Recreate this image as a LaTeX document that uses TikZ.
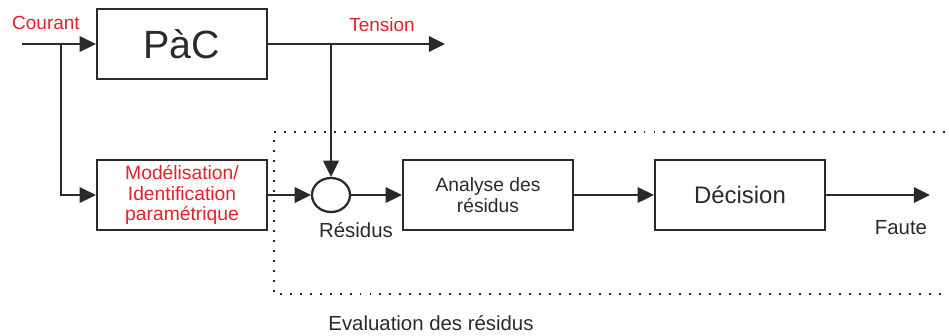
\documentclass[tikz,border=0pt]{standalone}
\usepackage{fontspec}
\setmainfont{Liberation Sans}
\usetikzlibrary{arrows.meta,shapes.geometric,positioning}
\definecolor{rouge}{RGB}{228,32,40}
\definecolor{trait}{RGB}{42,42,42}

\begin{document}
\begin{tikzpicture}[
	x=0.025cm, y=-0.025cm,
	align=center,
	>={Triangle[length=11.5pt,width=11pt]},
	line width=1.5pt,
	color=trait,
	bloc/.style={
		rectangle,
		draw=trait,
		line width=1.6pt,
		minimum width=4.25cm,
		minimum height=1.75cm,
		inner sep=0pt
	},
	somme/.style={ellipse, draw=trait, line width=1.6pt, minimum width=0.95cm, minimum height=0.85cm, inner sep=0pt},
	signal/.style={text=rouge, font=\fontsize{13.5}{15}\selectfont},
	texte/.style={font=\fontsize{14.5}{16}\selectfont},
	cadre/.style={line width=1.5pt, dash pattern=on 1.4pt off 5.7pt}
	]
    \useasboundingbox (0,0) rectangle (949,336);

    % pile a combustible
    \node[bloc, font=\fontsize{28}{30}\selectfont] (pac) at (182,44) {PàC};
    \coordinate (entree) at (22,44);
    \coordinate (b1) at (61,44);
    \coordinate (sortie) at (445,44);
    \coordinate (b2) at (331,44);
    \node[signal] at (46,23) (courant) {Courant};
    \node[signal] at (382,25) (tension) {Tension};

    % modele et residus
    \node[bloc, text=rouge, font=\fontsize{13.7}{14.8}\selectfont] at (182,195) (modele) {Modélisation/\\Identification\\paramétrique};
    \node[somme] at (331,195) (res) {};
    \node[texte] at (356,230) (residus) {Résidus};
    \node[bloc, font=\fontsize{13.7}{15}\selectfont] at (488,195) (analyse) {Analyse des\\résidus};
    \node[bloc, font=\fontsize{17}{20}\selectfont] at (740,195) (decision) {Décision};
    \coordinate (faute) at (930,195);
    \node[texte] at (901,228) (lfaute) {Faute};

    % connexions
    \draw[->] (entree) -- (pac);
    \draw[->] (pac) -- (sortie);
    \draw[->] (b1) |- (modele);
    \draw[->] (b2) -- (res);
    \draw[->] (modele) -- (res);
    \draw[->] (res) -- (analyse);
    \draw[->] (analyse) -- (decision);
    \draw[->] (decision) -- (faute);

    % evaluation
    \draw[cadre] (945,132) -- (274,132) -- (274,294) -- (945,294);
    \node[texte] at (431,323) (eval) {Evaluation des résidus};

\end{tikzpicture}
\end{document}
